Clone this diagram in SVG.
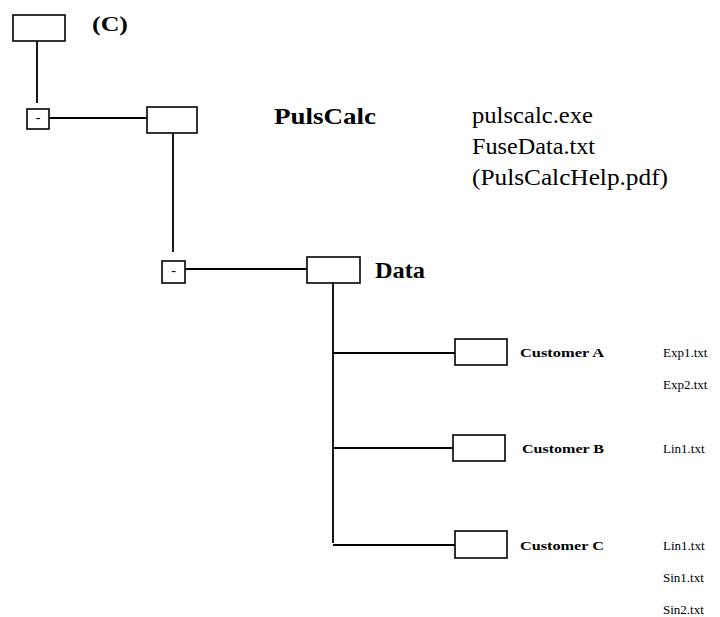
<svg xmlns="http://www.w3.org/2000/svg" width="720" height="617" viewBox="0 0 720 617">
<style>
.box{fill:#fff;stroke:#000;stroke-width:1.6}
.ln{stroke:#000;stroke-width:1.8;fill:none}
text{font-family:'Liberation Serif',Tinos,'Nimbus Roman','Nimbus Roman No9 L','Times New Roman',Times,'DejaVu Serif',serif;fill:#000}
.b{font-weight:bold}
</style>
<rect width="720" height="617" fill="#fff"/>
<g id="connectors">
<line class="ln" x1="37" y1="41" x2="37" y2="103"/>
<line class="ln" x1="49" y1="118" x2="147" y2="118"/>
<line class="ln" x1="173" y1="133" x2="173" y2="252"/>
<line class="ln" x1="185" y1="269" x2="307" y2="269"/>
<line class="ln" x1="333" y1="283" x2="333" y2="543"/>
<line class="ln" x1="333" y1="353" x2="455" y2="353"/>
<line class="ln" x1="333" y1="448" x2="453" y2="448"/>
<line class="ln" x1="333" y1="545" x2="455" y2="545"/>
</g>
<g id="root">
<rect class="box" x="13" y="15" width="52" height="26"/>
<text class="b" x="92" y="31" font-size="21" textLength="36" lengthAdjust="spacingAndGlyphs">(C)</text>
</g>
<g id="toggle1">
<rect class="box" x="27" y="109" width="22" height="20"/>
<text x="38" y="122" font-size="14" text-anchor="middle">-</text>
</g>
<g id="pulscalc">
<rect class="box" x="147" y="107" width="50" height="26"/>
<text class="b" x="274" y="124" font-size="24" textLength="102" lengthAdjust="spacingAndGlyphs">PulsCalc</text>
<text x="472" y="123" font-size="23" textLength="121" lengthAdjust="spacingAndGlyphs">pulscalc.exe</text>
<text x="472" y="154" font-size="23" textLength="123" lengthAdjust="spacingAndGlyphs">FuseData.txt</text>
<text x="472" y="185" font-size="23" textLength="196" lengthAdjust="spacingAndGlyphs">(PulsCalcHelp.pdf)</text>
</g>
<g id="toggle2">
<rect class="box" x="162" y="261" width="23" height="22"/>
<text x="173.5" y="275" font-size="14" text-anchor="middle">-</text>
</g>
<g id="data">
<rect class="box" x="307" y="257" width="53" height="26"/>
<text class="b" x="375" y="278" font-size="24" textLength="50" lengthAdjust="spacingAndGlyphs">Data</text>
</g>
<g id="customerA">
<rect class="box" x="455" y="339" width="52" height="26"/>
<text class="b" x="520" y="357" font-size="13" textLength="84" lengthAdjust="spacingAndGlyphs">Customer A</text>
<text x="663" y="357" font-size="13">Exp1.txt</text>
<text x="663" y="389" font-size="13">Exp2.txt</text>
</g>
<g id="customerB">
<rect class="box" x="453" y="435" width="52" height="26"/>
<text class="b" x="522" y="453" font-size="13" textLength="82" lengthAdjust="spacingAndGlyphs">Customer B</text>
<text x="663" y="453" font-size="13">Lin1.txt</text>
</g>
<g id="customerC">
<rect class="box" x="455" y="531" width="52" height="27"/>
<text class="b" x="520" y="550" font-size="13" textLength="84" lengthAdjust="spacingAndGlyphs">Customer C</text>
<text x="663" y="550" font-size="13">Lin1.txt</text>
<text x="663" y="582" font-size="13">Sin1.txt</text>
<text x="663" y="614" font-size="13">Sin2.txt</text>
</g>
</svg>
